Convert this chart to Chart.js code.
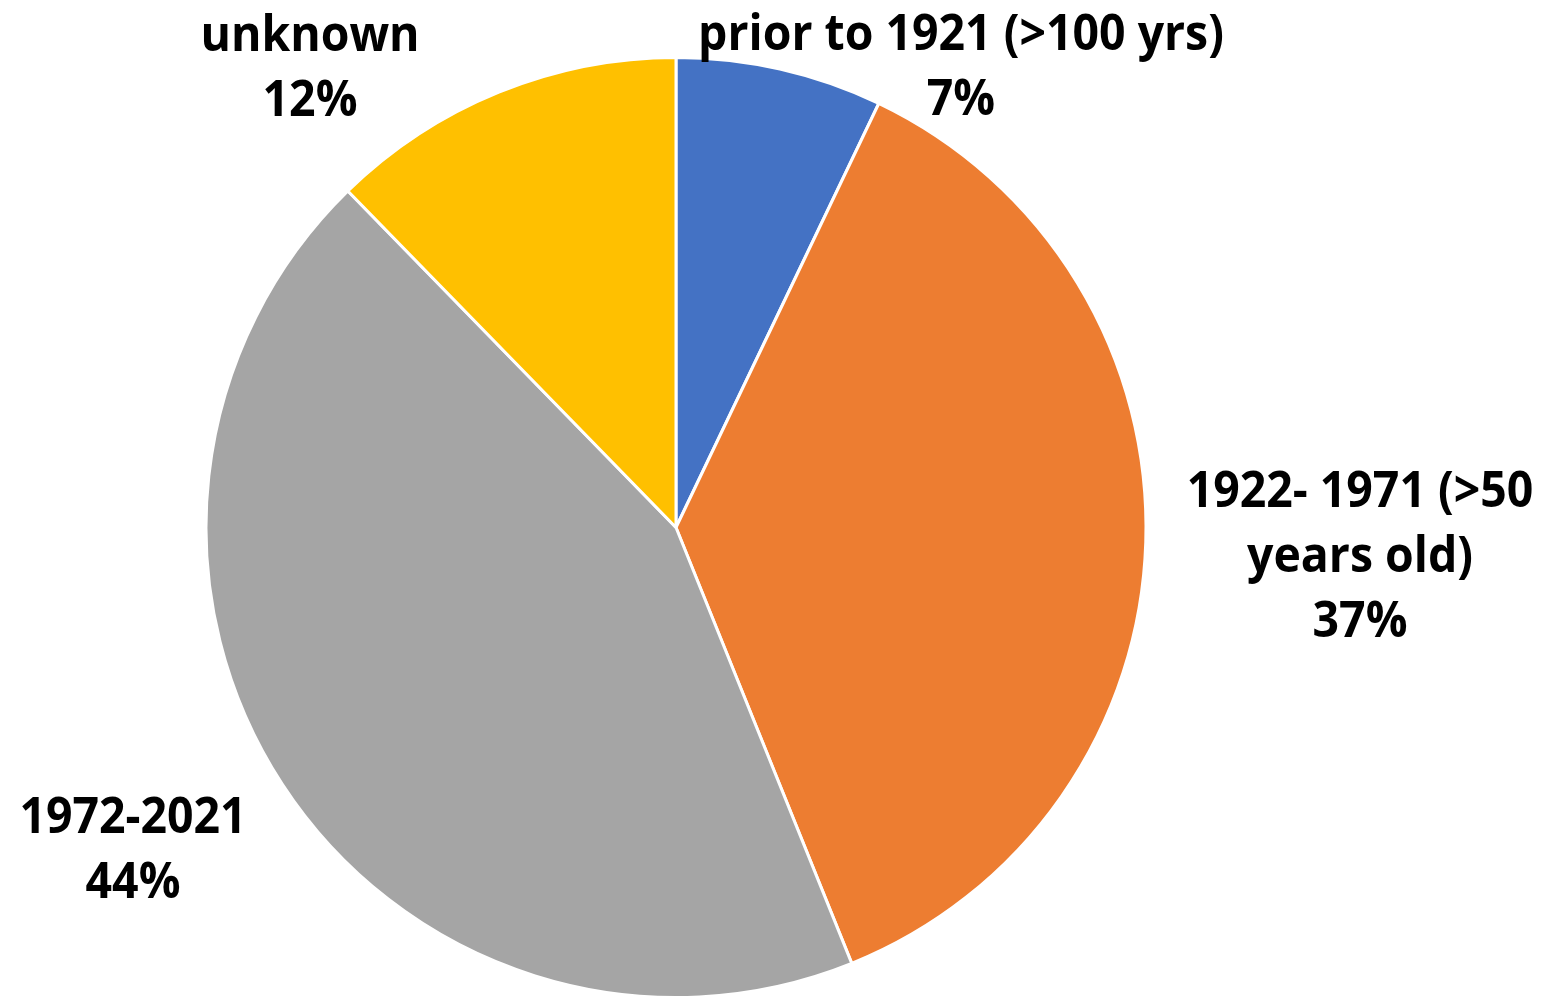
<!DOCTYPE html>
<html>
<head>
<meta charset="utf-8">
<script src="https://cdn.jsdelivr.net/npm/chart.js@4/dist/chart.umd.min.js"></script>
<style>
    html, body { margin: 0; padding: 0; background: #fff; overflow: hidden; }
    #wrap { position: relative; width: 1545px; height: 999px; }
</style>
</head>
<body>
<div id="wrap"><canvas id="myChart"></canvas></div>
<script>
// Données du graphique (parts, en %)
const categories = ["prior to 1921 (>100 yrs)", "1922- 1971 (>50 years old)", "1972-2021", "unknown"];
const valeurs = [7.1, 36.8, 43.8, 12.3];
const couleurs = ["#4472C4", "#ED7D31", "#A5A5A5", "#FFC000"];

// Étiquettes (lignes de texte) et ancrages
const lignesEtiquettes = [
    ["prior to 1921 (>100 yrs)"],
    ["1922- 1971 (>50", "years old)"],
    ["1972-2021"],
    ["unknown"]
];
const ancrages = [
    { x: 961, y: 50 },
    { x: 1360, y: 507 },
    { x: 133, y: 833 },
    { x: 310, y: 51 }
];

const FONT = "bold 51px 'Open Sans', sans-serif";
const SQUEEZE = 0.91;
const INTERLIGNE = 65;

const etiquettesPlugin = {
    id: "etiquettes",
    afterDraw(chart) {
        const ctx = chart.ctx;
        const data = chart.data.datasets[0].data;
        const total = data.reduce((a, b) => a + b, 0);
        ctx.save();
        ctx.font = FONT;
        ctx.fillStyle = "#000";
        ctx.textAlign = "center";
        ctx.textBaseline = "alphabetic";
        data.forEach((v, i) => {
            const lignes = lignesEtiquettes[i].concat([Math.round(v / total * 100) + "%"]);
            const a = ancrages[i];
            lignes.forEach((t, k) => {
                ctx.save();
                ctx.translate(a.x, a.y + k * INTERLIGNE);
                ctx.scale(SQUEEZE, 1);
                ctx.fillText(t, 0, 0);
                ctx.restore();
            });
        });
        ctx.restore();
    }
};

const canvas = document.getElementById("myChart");
const ctx = canvas.getContext("2d");

new Chart(ctx, {
    type: "pie",
    data: {
        labels: categories,
        datasets: [{
            data: valeurs,
            backgroundColor: couleurs,
            borderColor: "#fff",
            borderWidth: 3
        }]
    },
    options: {
        responsive: true,
        maintainAspectRatio: false,
        animation: false,
        layout: {
            padding: { left: 202, right: 395, top: 56, bottom: -4 }
        },
        plugins: {
            legend: { display: false },
            tooltip: { enabled: false }
        }
    },
    plugins: [etiquettesPlugin]
});
</script>
</body>
</html>
